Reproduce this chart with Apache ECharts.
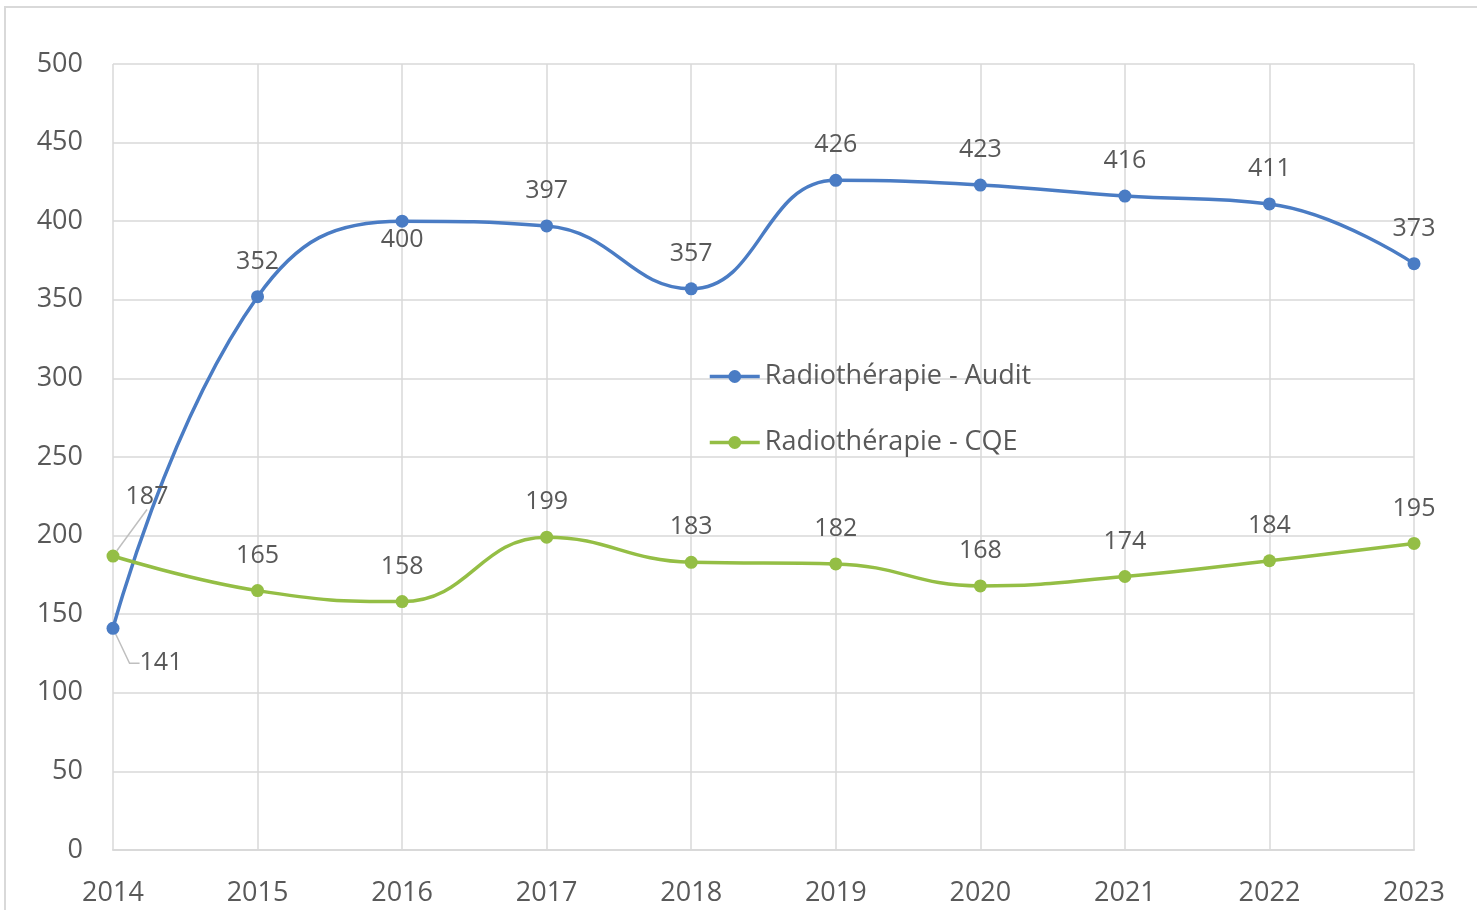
<!DOCTYPE html>
<html>
<head>
<meta charset="utf-8">
<script src="https://cdn.jsdelivr.net/npm/echarts@6/dist/echarts.min.js"></script>
<style>
  html, body { margin: 0; padding: 0; background: #fff; }
  #chart { width: 1477px; height: 910px; }
</style>
</head>
<body>
<div id="chart"></div>
<script>
const years = ['2014', '2015', '2016', '2017', '2018', '2019', '2020', '2021', '2022', '2023']
const auditValues = [141, 352, 400, 397, 357, 426, 423, 416, 411, 373]
const cqeValues = [187, 165, 158, 199, 183, 182, 168, 174, 184, 195]

const FONT = 'Open Sans'
const TXT = '#595959'
const GRID = '#D9D9D9'

const chart = echarts.init(document.getElementById('chart'))

const labelBase = {
    show: true,
    position: 'top',
    distance: 16,
    fontFamily: FONT,
    fontSize: 25,
    color: TXT
}
const guide = { show: true, length2: 10, lineStyle: { color: '#BFBFBF', width: 1.5 } }

chart.setOption({
    animation: false,
    graphic: [{
        type: 'rect',
        shape: { x: 5, y: 7, width: 1490, height: 920 },
        style: { fill: 'none', stroke: GRID, lineWidth: 2 },
        silent: true
    }],
    grid: { left: 113, right: 63, top: 64, bottom: 60 },
    legend: {
        orient: 'vertical',
        left: 703,
        top: 358,
        itemWidth: 50,
        itemHeight: 16,
        itemGap: 39,
        lineStyle: { width: 3.5 },
        textStyle: { fontFamily: FONT, fontSize: 27, color: TXT },
        data: ['Radiothérapie - Audit', 'Radiothérapie - CQE']
    },
    xAxis: {
        type: 'category',
        data: years,
        boundaryGap: false,
        axisLine: { lineStyle: { color: GRID, width: 2 } },
        axisTick: { show: false },
        axisLabel: { fontFamily: FONT, fontSize: 27, color: TXT, margin: 30 },
        splitLine: { show: true, lineStyle: { color: GRID, width: 1.5 } }
    },
    yAxis: {
        type: 'value',
        min: 0,
        max: 500,
        interval: 50,
        axisLine: { show: false },
        axisTick: { show: false },
        axisLabel: { fontFamily: FONT, fontSize: 27, color: TXT, margin: 30 },
        splitLine: { lineStyle: { color: GRID, width: 1.5 } }
    },
    series: [
        {
            name: 'Radiothérapie - Audit',
            type: 'line',
            smooth: 0.45,
            data: auditValues.map((v, i) => {
                if (i === 0) return { value: v, label: { position: 'bottom', distance: 8 }, labelLine: guide }
                if (i === 2) return { value: v, label: { position: 'bottom', distance: 0, offset: [11, 0] } }
                return v
            }),
            symbol: 'circle',
            symbolSize: 13,
            color: '#4A7CC4',
            lineStyle: { width: 3.5, color: '#4A7CC4' },
            label: labelBase,
            labelLayout: (p) => p.dataIndex === 0 ? { dx: 48, dy: 8 } : {},
            labelLine: { show: false }
        },
        {
            name: 'Radiothérapie - CQE',
            type: 'line',
            smooth: 0.45,
            data: cqeValues.map((v, i) => {
                if (i === 0) return { value: v, label: { distance: 8 }, labelLine: { show: true, length2: 0, lineStyle: guide.lineStyle } }
                return v
            }),
            symbol: 'circle',
            symbolSize: 13,
            color: '#94BE45',
            lineStyle: { width: 3.5, color: '#94BE45' },
            label: labelBase,
            labelLayout: (p) => p.dataIndex === 0 ? { dx: 34, dy: -32 } : {},
            labelLine: { show: false }
        }
    ]
})
</script>
</body>
</html>
